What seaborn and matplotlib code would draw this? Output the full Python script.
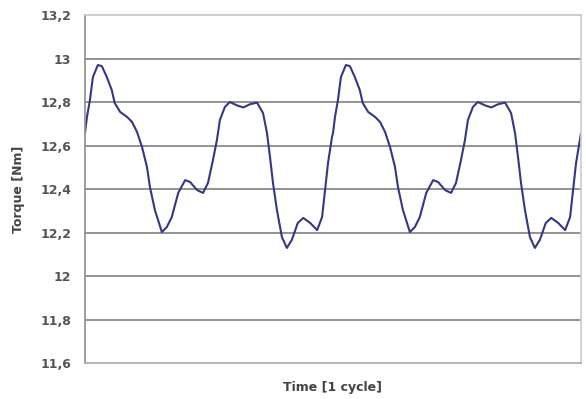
import matplotlib
matplotlib.use("Agg")
import matplotlib.pyplot as plt
import pandas as pd
import seaborn as sns

# time as fraction of the shown window (1 cycle), torque in Nm
time = [
    0.000, 0.004, 0.010, 0.016, 0.026, 0.034, 0.044, 0.054, 0.060, 0.071,
    0.085, 0.095, 0.105, 0.115, 0.125, 0.131, 0.141, 0.155, 0.165, 0.175,
    0.188, 0.202, 0.212, 0.226, 0.238, 0.248, 0.258, 0.266, 0.272, 0.282,
    0.292, 0.306, 0.319, 0.333, 0.347, 0.359, 0.367, 0.373, 0.379, 0.387,
    0.397, 0.407, 0.417, 0.429, 0.440, 0.454, 0.468, 0.478, 0.484, 0.490,
    0.498,
    0.500, 0.504, 0.510, 0.516, 0.526, 0.534, 0.544, 0.554, 0.560, 0.571,
    0.585, 0.595, 0.605, 0.615, 0.625, 0.631, 0.641, 0.655, 0.665, 0.675,
    0.688, 0.702, 0.712, 0.726, 0.738, 0.748, 0.758, 0.766, 0.772, 0.782,
    0.792, 0.806, 0.819, 0.833, 0.847, 0.859, 0.867, 0.873, 0.879, 0.887,
    0.897, 0.907, 0.917, 0.929, 0.940, 0.954, 0.968, 0.978, 0.984, 0.990,
    1.000,
]
torque = [
    12.657, 12.731, 12.809, 12.915, 12.970, 12.965, 12.915, 12.855, 12.795, 12.754,
    12.731, 12.708, 12.662, 12.593, 12.501, 12.409, 12.303, 12.202, 12.225, 12.271,
    12.382, 12.441, 12.432, 12.395, 12.382, 12.428, 12.533, 12.625, 12.717, 12.777,
    12.800, 12.785, 12.775, 12.790, 12.797, 12.749, 12.657, 12.547, 12.428, 12.303,
    12.179, 12.129, 12.166, 12.244, 12.267, 12.244, 12.211, 12.271, 12.395, 12.520,
    12.639,
    12.657, 12.731, 12.809, 12.915, 12.970, 12.965, 12.915, 12.855, 12.795, 12.754,
    12.731, 12.708, 12.662, 12.593, 12.501, 12.409, 12.303, 12.202, 12.225, 12.271,
    12.382, 12.441, 12.432, 12.395, 12.382, 12.428, 12.533, 12.625, 12.717, 12.777,
    12.800, 12.785, 12.775, 12.790, 12.797, 12.749, 12.657, 12.547, 12.428, 12.303,
    12.179, 12.129, 12.166, 12.244, 12.267, 12.244, 12.211, 12.271, 12.395, 12.520,
    12.657,
]

y_ticks = [11.6, 11.8, 12.0, 12.2, 12.4, 12.6, 12.8, 13.0, 13.2]
y_tick_labels = ["11,6", "11,8", "12", "12,2", "12,4", "12,6", "12,8", "13", "13,2"]

df = pd.DataFrame({"time": time, "torque": torque})

sns.set_theme(style="white")
plt.rcParams["font.family"] = ["DejaVu Sans"]

fig = plt.figure(figsize=(5.86, 3.99), dpi=100)
ax = fig.add_axes([0.145, 0.0902, 0.8465, 0.8722])

sns.lineplot(data=df, x="time", y="torque", ax=ax, color="#35358a",
             linewidth=1.5, solid_joinstyle="round")

ax.set_xlim(0, 1)
ax.set_ylim(11.6, 13.2)
ax.set_xticks([])
ax.set_yticks(y_ticks)
ax.set_yticklabels(y_tick_labels, fontsize=9, fontweight="bold", color="#555555")
ax.tick_params(axis="y", length=0, pad=10)

ax.grid(axis="y", color="#808080", linewidth=1.2)
ax.set_axisbelow(True)
grid = ax.get_ygridlines()
grid[0].set_visible(False)
grid[-1].set_visible(False)

ax.spines["left"].set_color("#8c8c8c")
ax.spines["bottom"].set_color("#a8a8a8")
ax.spines["top"].set_color("#c4c4c4")
ax.spines["right"].set_color("#cccccc")
for s in ax.spines.values():
    s.set_linewidth(1.2)

ax.set_xlabel("Time [1 cycle]", fontsize=9, fontweight="bold", color="#444444", labelpad=13)
ax.set_ylabel("Torque [Nm]", fontsize=9, fontweight="bold", color="#444444", labelpad=11)

fig.savefig("out.png", dpi=100)
plt.close(fig)
